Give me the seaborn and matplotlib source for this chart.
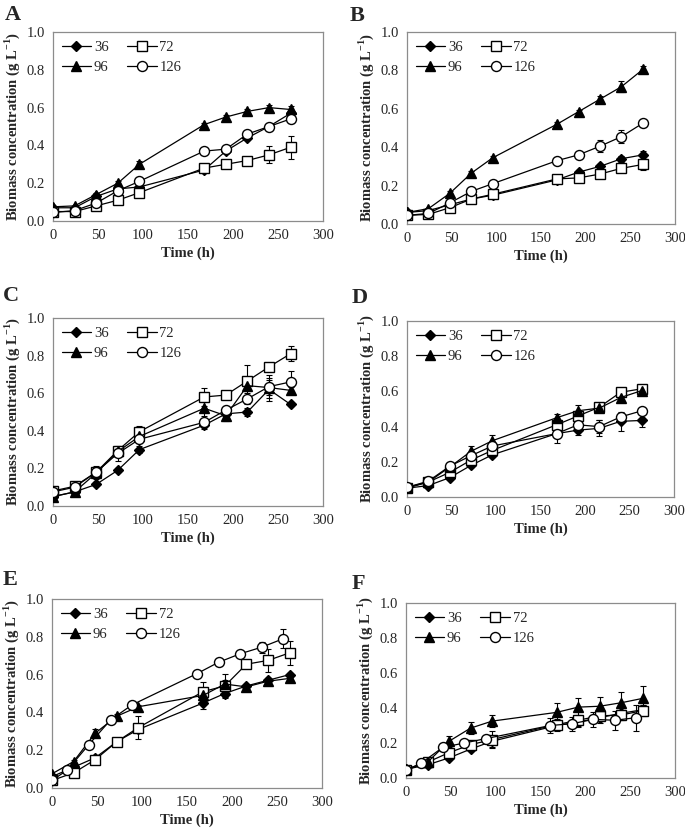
import matplotlib.pyplot as plt
import seaborn as sns
import pandas as pd

# sampling times (h); the 126 series in E and F was sampled slightly earlier
time = [0, 24, 48, 72, 96, 168, 192, 216, 240, 264]
time_early = [0, 17, 41, 65, 89, 161, 185, 209, 233, 257]
series = ['36', '72', '96', '126']

# panel A
a_36 = [0.07, 0.07, 0.13, 0.17, 0.18, 0.27, 0.37, 0.44, 0.50, 0.57]
a_72 = [0.05, 0.05, 0.08, 0.11, 0.15, 0.28, 0.30, 0.32, 0.35, 0.39]
a_96 = [0.075, 0.08, 0.14, 0.20, 0.30, 0.51, 0.55, 0.58, 0.60, 0.59]
a_126 = [0.045, 0.055, 0.095, 0.16, 0.21, 0.37, 0.38, 0.46, 0.50, 0.54]
a_36_err = [0, 0, 0, 0, 0, 0.01, 0.01, 0.01, 0.01, 0.01]
a_72_err = [0, 0, 0.01, 0.01, 0.01, 0.02, 0.01, 0.01, 0.045, 0.06]
a_96_err = [0, 0, 0.01, 0.01, 0.02, 0.01, 0.01, 0.01, 0.015, 0.02]
a_126_err = [0, 0, 0.01, 0.01, 0.01, 0.01, 0.01, 0.01, 0.02, 0.02]

# panel B
b_36 = [0.06, 0.07, 0.10, 0.13, 0.15, 0.23, 0.27, 0.30, 0.34, 0.36]
b_72 = [0.045, 0.05, 0.085, 0.13, 0.155, 0.235, 0.24, 0.26, 0.29, 0.31]
b_96 = [0.06, 0.08, 0.16, 0.265, 0.345, 0.52, 0.585, 0.65, 0.715, 0.805]
b_126 = [0.045, 0.055, 0.11, 0.17, 0.21, 0.33, 0.36, 0.405, 0.455, 0.525]
b_36_err = [0, 0, 0.01, 0.01, 0.01, 0.01, 0.01, 0.01, 0.015, 0.02]
b_72_err = [0, 0, 0.01, 0.01, 0.01, 0.01, 0.01, 0.01, 0.02, 0.03]
b_96_err = [0, 0, 0.01, 0.01, 0.01, 0.01, 0.01, 0.015, 0.03, 0.02]
b_126_err = [0, 0, 0.01, 0.01, 0.01, 0.01, 0.01, 0.03, 0.035, 0.015]

# panel C
c_36 = [0.05, 0.075, 0.115, 0.19, 0.30, 0.43, 0.49, 0.50, 0.62, 0.54]
c_72 = [0.08, 0.105, 0.18, 0.295, 0.395, 0.58, 0.59, 0.665, 0.74, 0.81]
c_96 = [0.05, 0.075, 0.175, 0.29, 0.37, 0.52, 0.48, 0.64, 0.63, 0.615]
c_126 = [0.075, 0.10, 0.18, 0.28, 0.355, 0.445, 0.51, 0.57, 0.635, 0.66]
c_36_err = [0, 0.01, 0.01, 0.01, 0.02, 0.02, 0.02, 0.02, 0.06, 0.01]
c_72_err = [0.01, 0.01, 0.035, 0.02, 0.03, 0.05, 0.02, 0.085, 0.02, 0.04]
c_96_err = [0, 0.01, 0.02, 0.02, 0.02, 0.04, 0.03, 0.02, 0.04, 0.02]
c_126_err = [0.01, 0.01, 0.02, 0.04, 0.02, 0.02, 0.02, 0.03, 0.06, 0.06]

# panel D
d_36 = [0.05, 0.065, 0.11, 0.18, 0.24, 0.36, 0.38, 0.39, 0.43, 0.435]
d_72 = [0.05, 0.085, 0.14, 0.21, 0.265, 0.41, 0.46, 0.51, 0.595, 0.615]
d_96 = [0.055, 0.085, 0.17, 0.26, 0.32, 0.45, 0.49, 0.505, 0.565, 0.605]
d_126 = [0.055, 0.09, 0.175, 0.235, 0.29, 0.36, 0.41, 0.40, 0.455, 0.49]
d_36_err = [0, 0.01, 0.01, 0.01, 0.01, 0.02, 0.03, 0.045, 0.055, 0.035]
d_72_err = [0, 0.01, 0.01, 0.02, 0.02, 0.03, 0.02, 0.01, 0.01, 0.01]
d_96_err = [0, 0.01, 0.02, 0.03, 0.03, 0.02, 0.03, 0.01, 0.01, 0.01]
d_126_err = [0, 0.01, 0.01, 0.02, 0.02, 0.055, 0.02, 0.035, 0.02, 0.01]

# panel E
e_36 = [0.06, 0.11, 0.16, 0.245, 0.31, 0.45, 0.50, 0.54, 0.57, 0.60]
e_72 = [0.04, 0.08, 0.15, 0.245, 0.32, 0.51, 0.54, 0.655, 0.675, 0.715]
e_96 = [0.075, 0.14, 0.29, 0.38, 0.43, 0.49, 0.55, 0.535, 0.565, 0.58]
e_126 = [0.04, 0.095, 0.23, 0.36, 0.44, 0.605, 0.665, 0.71, 0.745, 0.79]
e_36_err = [0, 0.01, 0.01, 0.01, 0.02, 0.03, 0.02, 0.01, 0.01, 0.01]
e_72_err = [0, 0.01, 0.01, 0.01, 0.06, 0.05, 0.065, 0.02, 0.06, 0.065]
e_96_err = [0, 0.01, 0.02, 0.01, 0.01, 0.02, 0.02, 0.01, 0.01, 0.01]
e_126_err = [0, 0.01, 0.01, 0.01, 0.01, 0.01, 0.01, 0.01, 0.03, 0.05]

# panel F
f_36 = [0.05, 0.075, 0.115, 0.165, 0.21, 0.30, 0.32, 0.345, 0.37, 0.39]
f_72 = [0.045, 0.09, 0.145, 0.19, 0.22, 0.305, 0.33, 0.355, 0.36, 0.385]
f_96 = [0.05, 0.09, 0.21, 0.285, 0.325, 0.375, 0.405, 0.41, 0.43, 0.455]
f_126 = [0.045, 0.085, 0.175, 0.20, 0.225, 0.30, 0.31, 0.335, 0.33, 0.345]
f_36_err = [0, 0.01, 0.01, 0.01, 0.03, 0.03, 0.03, 0.03, 0.03, 0.03]
f_72_err = [0, 0.01, 0.02, 0.02, 0.05, 0.03, 0.03, 0.03, 0.03, 0.03]
f_96_err = [0, 0.01, 0.03, 0.035, 0.035, 0.055, 0.05, 0.055, 0.06, 0.07]
f_126_err = [0, 0.01, 0.01, 0.01, 0.01, 0.045, 0.04, 0.045, 0.055, 0.075]

sns.set_style('white')
plt.rcParams['font.family'] = ['Liberation Serif', 'DejaVu Serif']
plt.rcParams['mathtext.fontset'] = 'custom'
plt.rcParams['mathtext.rm'] = 'Liberation Serif'
plt.rcParams['mathtext.bf'] = 'Liberation Serif:bold'

styles = {
    '36': dict(marker='D', ms=4.6, mfc='black'),
    '72': dict(marker='s', ms=6.8, mfc='white'),
    '96': dict(marker='^', ms=6.6, mfc='black'),
    '126': dict(marker='o', ms=7.2, mfc='white'),
}

panels = [
    ('A', [53, 221, 270, 189], (5, 15), [a_36, a_72, a_96, a_126],
     [a_36_err, a_72_err, a_96_err, a_126_err], False),
    ('B', [407, 224, 268, 192], (350, 16), [b_36, b_72, b_96, b_126],
     [b_36_err, b_72_err, b_96_err, b_126_err], False),
    ('C', [53, 506, 270, 188], (3, 296), [c_36, c_72, c_96, c_126],
     [c_36_err, c_72_err, c_96_err, c_126_err], False),
    ('D', [407, 497, 267, 176], (352, 298), [d_36, d_72, d_96, d_126],
     [d_36_err, d_72_err, d_96_err, d_126_err], False),
    ('E', [52, 788, 270, 189], (3, 580), [e_36, e_72, e_96, e_126],
     [e_36_err, e_72_err, e_96_err, e_126_err], True),
    ('F', [406, 778, 269, 175], (352, 584), [f_36, f_72, f_96, f_126],
     [f_36_err, f_72_err, f_96_err, f_126_err], True),
]

W, H = 685, 833
fig = plt.figure(figsize=(W / 100, H / 100), dpi=100)

for letter, box, lpos, values, errors, shifted in panels:
    left, bottom, width, height = box
    ax = fig.add_axes([left / W, 1 - bottom / H, width / W, height / H])
    handles = {}
    for name, y, err in zip(series, values, errors):
        x = time_early if (shifted and name == '126') else time
        df = pd.DataFrame({'time': x, 'biomass': y})
        ax.errorbar(x, y, yerr=err, fmt='none', ecolor='black',
                    elinewidth=0.8, capsize=2.5, capthick=0.8, zorder=2)
        st = styles[name]
        sns.lineplot(data=df, x='time', y='biomass', ax=ax, color='black',
                     lw=0.9, marker=st['marker'], markersize=st['ms'],
                     markerfacecolor=st['mfc'], markeredgecolor='black',
                     markeredgewidth=1.0, zorder=3, label=name)
        handles[name] = ax.get_lines()[-1]
    order = ['36', '96', '72', '126']
    ax.legend([handles[k] for k in order], order, ncol=2, loc='upper left',
              frameon=False, fontsize=10.5, handlelength=2.0,
              handletextpad=0.2, columnspacing=1.3, labelspacing=0.45,
              borderaxespad=0.3, borderpad=0.3)
    ax.set_xlim(0, 300)
    ax.set_ylim(0, 1.0)
    ax.set_xticks(range(0, 301, 50))
    ax.set_yticks([0, 0.2, 0.4, 0.6, 0.8, 1.0])
    ax.set_yticklabels(['0.0', '0.2', '0.4', '0.6', '0.8', '1.0'])
    ax.tick_params(labelsize=10.5, length=3, width=0.8, color='#808080',
                   direction='out', pad=3)
    for sp in ax.spines.values():
        sp.set_color('#8c8c8c')
        sp.set_linewidth(0.9)
    ax.set_xlabel('Time (h)', fontsize=10.5, fontweight='bold', labelpad=3)
    ax.set_ylabel(r'Biomass concentration (g L$^{\mathbf{-1}}$)',
                  fontsize=10.5, fontweight='bold', labelpad=3)
    fig.text(lpos[0] / W, 1 - lpos[1] / H, letter, fontsize=16,
             fontweight='bold', ha='left', va='center')

fig.savefig('out.png', dpi=100)
